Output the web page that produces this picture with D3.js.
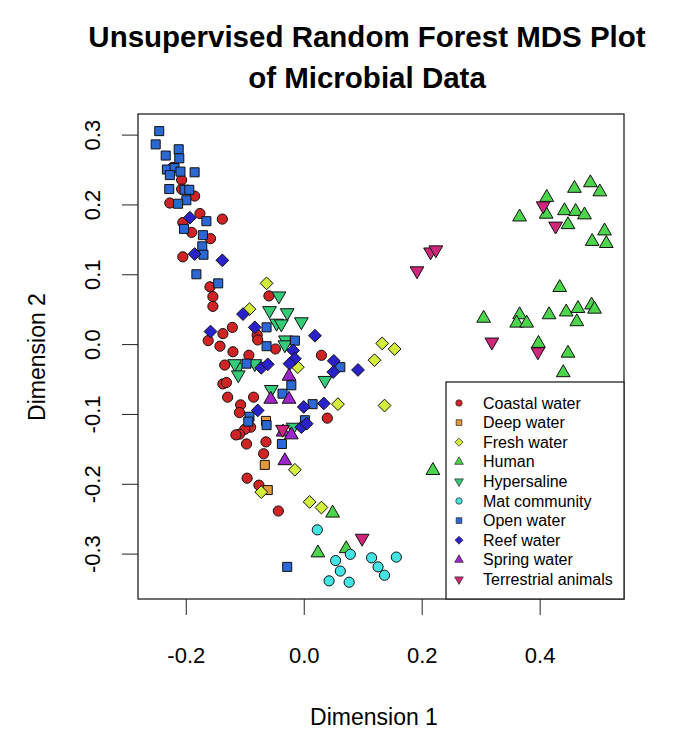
<!DOCTYPE html>
<html>
<head>
<meta charset="utf-8">
<script src="https://cdn.jsdelivr.net/npm/d3@7/dist/d3.min.js"></script>
<style>
  body { margin: 0; background: #fff; }
  text { font-family: 'Liberation Sans', Arial, Helvetica, sans-serif; fill: #000; }
</style>
</head>
<body>
<div id="chart"></div>
<script>
// Groups shown in the legend, in legend order
const categories = ['Coastal water', 'Deep water', 'Fresh water', 'Human', 'Hypersaline',
  'Mat community', 'Open water', 'Reef water', 'Spring water', 'Terrestrial animals'];

// MDS coordinates [dim1, dim2], one array per group
const coastalWater = [
  [-0.222, 0.253], [-0.207, 0.235], [-0.207, 0.222], [-0.185, 0.212], [-0.227, 0.202],
  [-0.176, 0.187], [-0.138, 0.179], [-0.205, 0.174], [-0.190, 0.160], [-0.158, 0.151],
  [-0.205, 0.125], [-0.159, 0.082], [-0.154, 0.068], [-0.154, 0.054], [-0.059, 0.069],
  [-0.121, 0.024], [-0.137, 0.015], [-0.162, 0.005], [-0.142, -0.003], [-0.079, 0.013],
  [-0.078, 0.006], [-0.048, -0.007], [-0.120, -0.011], [-0.093, -0.016], [0.030, -0.016],
  [-0.134, -0.030], [-0.137, -0.057], [-0.131, -0.055], [-0.129, -0.076], [-0.085, -0.076],
  [-0.107, -0.087], [-0.109, -0.098], [0.040, -0.106], [-0.090, -0.119], [-0.100, -0.122],
  [-0.109, -0.129], [-0.115, -0.130], [-0.097, -0.143], [-0.064, -0.140], [-0.068, -0.157],
  [-0.096, -0.192], [-0.076, -0.202], [-0.043, -0.239]
];
const deepWater = [[-0.064, -0.110], [-0.066, -0.173], [-0.061, -0.209]];
const freshWater = [
  [-0.063, 0.087], [-0.092, 0.050], [-0.010, -0.033], [0.058, -0.086], [-0.015, -0.180],
  [-0.072, -0.212], [0.010, -0.226], [0.030, -0.234], [0.133, 0.001], [0.154, -0.007],
  [0.120, -0.023], [0.137, -0.088]
];
const human = [
  [0.459, 0.223], [0.486, 0.231], [0.502, 0.218], [0.412, 0.210], [0.366, 0.182],
  [0.411, 0.186], [0.442, 0.191], [0.461, 0.190], [0.476, 0.185], [0.448, 0.171],
  [0.510, 0.162], [0.489, 0.147], [0.513, 0.144], [0.434, 0.081], [0.305, 0.037],
  [0.366, 0.042], [0.361, 0.030], [0.378, 0.030], [0.416, 0.042], [0.445, 0.046],
  [0.465, 0.051], [0.488, 0.056], [0.493, 0.050], [0.463, 0.032], [0.398, 0.001],
  [0.448, -0.013], [0.440, -0.041], [0.219, -0.181], [0.049, -0.242], [0.024, -0.299],
  [0.072, -0.293]
];
const hypersaline = [
  [-0.042, 0.069], [-0.058, 0.048], [-0.028, 0.045], [-0.046, 0.030], [-0.038, 0.029],
  [-0.004, 0.032], [-0.031, 0.006], [-0.032, -0.001], [-0.111, -0.033], [-0.117, -0.028],
  [-0.083, -0.028], [-0.111, -0.044], [0.036, -0.052], [-0.055, -0.065], [-0.018, -0.119]
];
const matCommunity = [
  [0.023, -0.266], [0.079, -0.301], [0.054, -0.310], [0.062, -0.325], [0.043, -0.339],
  [0.077, -0.341], [0.115, -0.306], [0.126, -0.319], [0.137, -0.331], [0.157, -0.305]
];
const openWater = [
  [-0.245, 0.305], [-0.251, 0.286], [-0.234, 0.270], [-0.212, 0.279], [-0.211, 0.266],
  [-0.232, 0.250], [-0.219, 0.252], [-0.209, 0.247], [-0.227, 0.242], [-0.185, 0.246],
  [-0.228, 0.222], [-0.202, 0.221], [-0.194, 0.221], [-0.199, 0.206], [-0.213, 0.201],
  [-0.165, 0.176], [-0.203, 0.165], [-0.171, 0.156], [-0.172, 0.140], [-0.170, 0.128],
  [-0.182, 0.100], [-0.145, 0.087], [-0.063, 0.024], [-0.063, -0.003], [-0.015, 0.005],
  [0.062, -0.033], [-0.097, -0.028], [-0.021, -0.059], [-0.036, -0.071], [0.015, -0.086],
  [-0.092, -0.104], [-0.063, -0.116], [0.002, -0.109], [-0.037, -0.143], [-0.094, -0.111],
  [-0.028, -0.319]
];
const reefWater = [
  [-0.193, 0.181], [-0.185, 0.129], [-0.138, 0.120], [-0.103, 0.043], [-0.083, 0.024],
  [-0.158, 0.018], [0.019, 0.012], [-0.018, -0.009], [-0.015, -0.021], [-0.024, -0.028],
  [0.051, -0.024], [0.050, -0.040], [0.092, -0.037], [-0.072, -0.034], [-0.061, -0.029],
  [0.000, -0.090], [0.034, -0.085], [-0.078, -0.095], [-0.004, -0.119], [0.005, -0.114]
];
const springWater = [
  [-0.025, -0.046], [-0.056, -0.079], [-0.025, -0.079], [-0.035, -0.126], [-0.021, -0.130],
  [-0.032, -0.167]
];
const terrestrialAnimals = [
  [-0.036, -0.122], [0.215, 0.132], [0.224, 0.135], [0.192, 0.105], [0.406, 0.198],
  [0.427, 0.169], [0.319, 0.003], [0.397, -0.011], [0.099, -0.278]
];

const seriesData = [coastalWater, deepWater, freshWater, human, hypersaline,
  matCommunity, openWater, reefWater, springWater, terrestrialAnimals];

const xTicks = [-0.2, 0.0, 0.2, 0.4];
const yTicks = [-0.3, -0.2, -0.1, 0.0, 0.1, 0.2, 0.3];

// Fill colour and R-style plotting symbol for each group
const colors = ['#d02424', '#e29a3c', '#d4ec3c', '#4cd44c', '#34cc78',
  '#44e4e4', '#2c68d4', '#2a22c8', '#a024cc', '#d0267c'];
const shapes = ['circle', 'square', 'diamond', 'triUp', 'triDown',
  'circle', 'square', 'diamond', 'triUp', 'triDown'];

const width = 680, height = 733;
const plot = {left: 138, right: 624, top: 114, bottom: 599};

const svg = d3.select('#chart').append('svg')
    .attr('width', width)
    .attr('height', height);

svg.append('rect').attr('width', width).attr('height', height).attr('fill', '#fff');

const x = d3.scaleLinear().domain([-0.281, 0.543]).range([plot.left, plot.right]);
const y = d3.scaleLinear().domain([-0.365, 0.3295]).range([plot.bottom, plot.top]);

// symbol outline like R's pch 21-25, r is the "radius" of the circle
function symbolPath(shape, r) {
  if (shape === 'circle') {
    return 'M' + r + ',0A' + r + ',' + r + ' 0 1,1 ' + (-r) + ',0A' + r + ',' + r + ' 0 1,1 ' + r + ',0Z';
  }
  if (shape === 'square') {
    let s = r * 0.886;
    return 'M' + (-s) + ',' + (-s) + 'H' + s + 'V' + s + 'H' + (-s) + 'Z';
  }
  if (shape === 'diamond') {
    let s = r * 1.253;
    return 'M0,' + (-s) + 'L' + s + ',0L0,' + s + 'L' + (-s) + ',0Z';
  }
  let t = r * 1.555, hw = r * 1.3468, b = r * 0.7776;
  if (shape === 'triUp') {
    return 'M0,' + (-t) + 'L' + hw + ',' + b + 'L' + (-hw) + ',' + b + 'Z';
  }
  return 'M0,' + t + 'L' + hw + ',' + (-b) + 'L' + (-hw) + ',' + (-b) + 'Z';
}

// Points
seriesData.forEach(function(points, i) {
  svg.append('g')
      .attr('class', 'series')
      .selectAll('path')
      .data(points)
      .enter()
      .append('path')
      .attr('transform', d => 'translate(' + x(d[0]) + ',' + y(d[1]) + ')')
      .attr('d', symbolPath(shapes[i], 5.1))
      .attr('fill', colors[i])
      .attr('stroke', '#111')
      .attr('stroke-width', 1);
});

// Axes
let xAxis = svg.append('g')
    .attr('transform', 'translate(0,' + plot.bottom + ')')
    .call(d3.axisBottom(x).tickValues(xTicks).tickSize(16).tickFormat(d => d.toFixed(1)));
xAxis.select('.domain').remove();
xAxis.selectAll('line').attr('stroke', '#222');
xAxis.selectAll('text')
    .attr('y', 64)
    .attr('dy', 0)
    .style('font-size', '22px')
    .style('font-family', "'Liberation Sans', Arial, sans-serif");

let yAxis = svg.append('g')
    .attr('transform', 'translate(' + plot.left + ',0)')
    .call(d3.axisLeft(y).tickValues(yTicks).tickSize(16).tickFormat(d => d.toFixed(1)));
yAxis.select('.domain').remove();
yAxis.selectAll('line').attr('stroke', '#222');
yAxis.selectAll('text')
    .attr('transform', 'rotate(-90)')
    .attr('x', 0)
    .attr('y', -38)
    .attr('dy', 0)
    .style('text-anchor', 'middle')
    .style('font-size', '22px')
    .style('font-family', "'Liberation Sans', Arial, sans-serif");

// Plot frame
svg.append('rect')
    .attr('x', plot.left)
    .attr('y', plot.top)
    .attr('width', plot.right - plot.left)
    .attr('height', plot.bottom - plot.top)
    .attr('fill', 'none')
    .attr('stroke', '#222')
    .attr('stroke-width', 1.3);

// Axis titles
svg.append('text')
    .attr('x', 374)
    .attr('y', 725)
    .style('text-anchor', 'middle')
    .style('font-size', '23px')
    .text('Dimension 1');

svg.append('text')
    .attr('transform', 'rotate(-90)')
    .attr('x', -357)
    .attr('y', 45)
    .style('text-anchor', 'middle')
    .style('font-size', '23px')
    .text('Dimension 2');

// Title, two lines
const titleLines = ['Unsupervised Random Forest MDS Plot', 'of Microbial Data'];
titleLines.forEach(function(line, i) {
  svg.append('text')
      .attr('x', 367)
      .attr('y', 47 + i * 41)
      .style('text-anchor', 'middle')
      .style('font-size', '29.5px')
      .style('font-weight', 'bold')
      .text(line);
});

// Legend in the bottom right corner of the plot
const legend = {left: 446, top: 382};
svg.append('rect')
    .attr('x', legend.left)
    .attr('y', legend.top)
    .attr('width', plot.right - legend.left)
    .attr('height', plot.bottom - legend.top)
    .attr('fill', '#fff')
    .attr('stroke', '#222')
    .attr('stroke-width', 1.3);

categories.forEach(function(name, i) {
  let rowY = 403 + i * 19.6;
  svg.append('path')
      .attr('transform', 'translate(459,' + rowY + ')')
      .attr('d', symbolPath(shapes[i], 3.2))
      .attr('fill', colors[i])
      .attr('stroke', '#333')
      .attr('stroke-width', 0.8);
  svg.append('text')
      .attr('x', 483)
      .attr('y', rowY + 5.5)
      .style('font-size', '16px')
      .text(name);
});
</script>
</body>
</html>
